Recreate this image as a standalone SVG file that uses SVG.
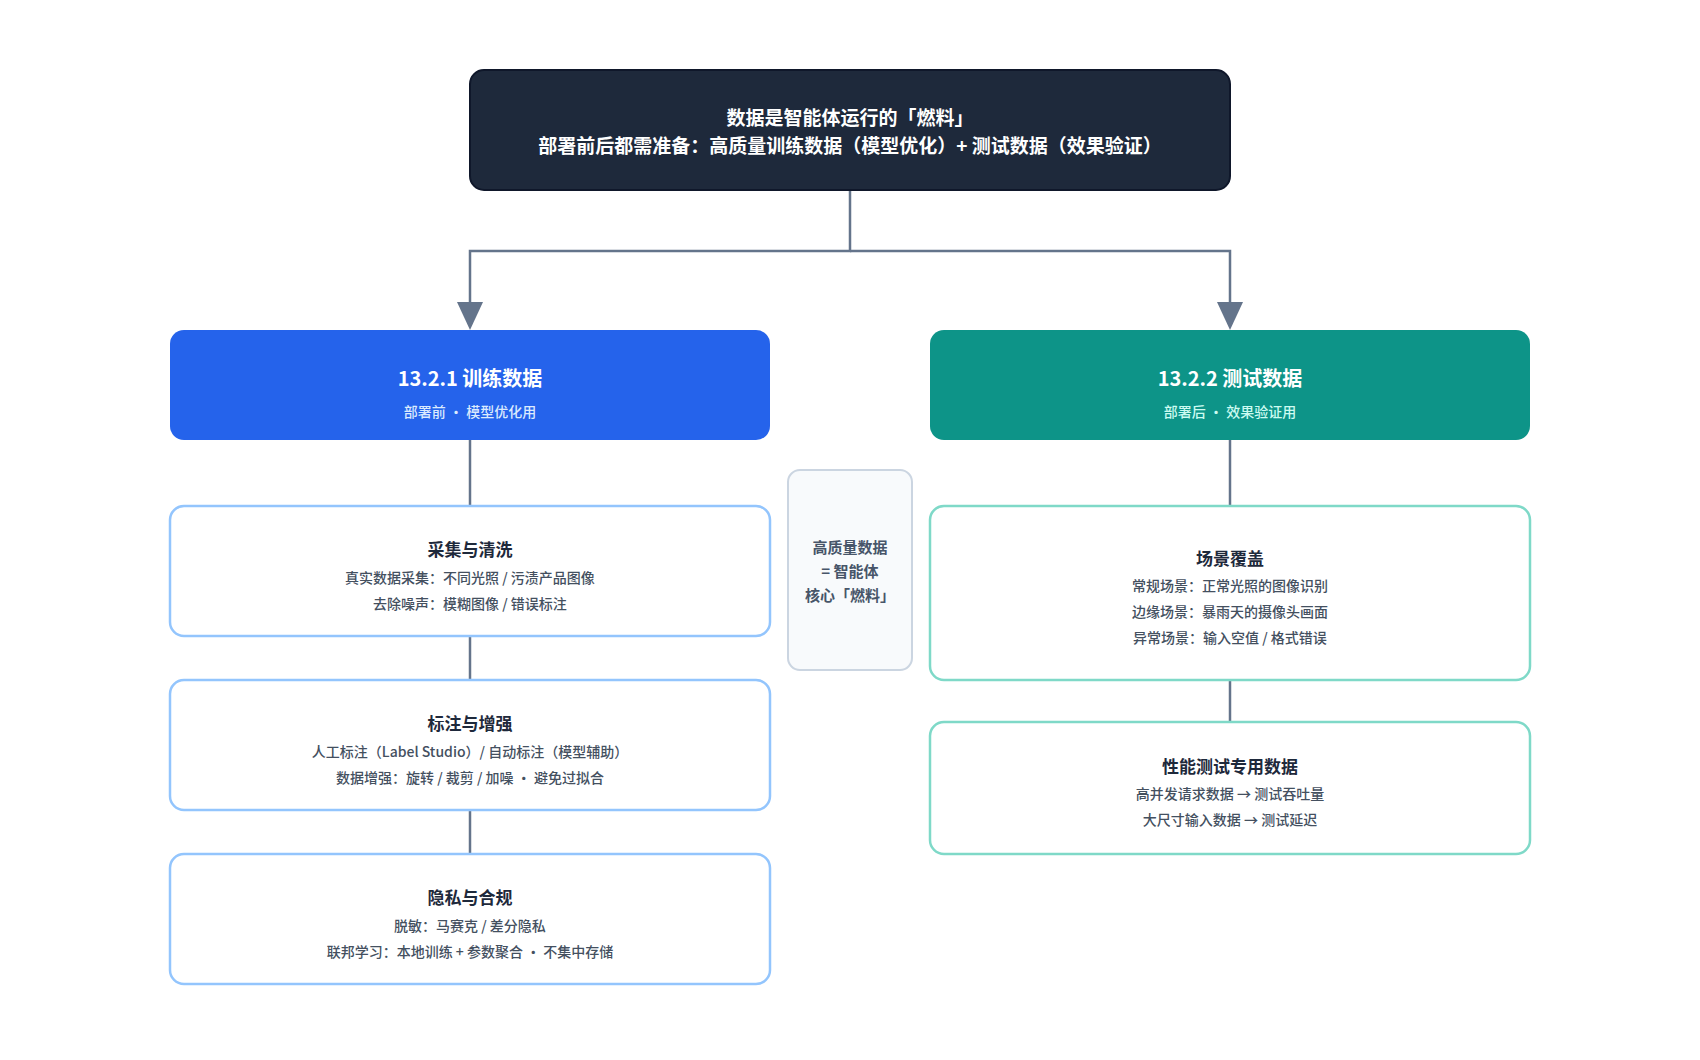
<svg xmlns="http://www.w3.org/2000/svg" width="1700" height="1060" viewBox="0 0 1700 1060">
<defs>
<style>
text{font-family:"Noto Sans CJK SC","Noto Sans",sans-serif;text-anchor:middle;dominant-baseline:central}
.top{fill:#ffffff;font-size:19px;font-weight:700}
.h1{fill:#ffffff;font-size:20px;font-weight:700}
.sub{font-size:14px;font-weight:500}
.t{fill:#1e293b;font-size:17px;font-weight:700}
.b{fill:#44505f;font-size:14px;font-weight:500}
.c{fill:#475569;font-size:15px;font-weight:700}
.lb{fill:#ffffff;stroke:#93c5fd;stroke-width:2.5}
.lt{fill:#ffffff;stroke:#7fd9c8;stroke-width:2.5}
.conn{fill:none;stroke:#64748b;stroke-width:2.5}
</style>
</defs>
<rect width="1700" height="1060" fill="#ffffff"/>
<g id="connectors">
<path class="conn" d="M850 190 V251 H470 V302"/>
<path class="conn" d="M850 251 H1230 V302"/>
<path d="M457 302 L483 302 L470 330 Z" fill="#64748b"/>
<path d="M1217 302 L1243 302 L1230 330 Z" fill="#64748b"/>
<path class="conn" d="M470 440 V506"/>
<path class="conn" d="M470 636 V680"/>
<path class="conn" d="M470 810 V854"/>
<path class="conn" d="M1230 440 V506"/>
<path class="conn" d="M1230 680 V722"/>
</g>
<g id="top">
<rect x="470" y="70" width="760" height="120" rx="14" fill="#1e293b" stroke="#0f172a" stroke-width="2"/>
<text class="top" x="850" y="116">数据是智能体运行的「燃料」</text>
<text class="top" x="850" y="144">部署前后都需准备：高质量训练数据（模型优化）+ 测试数据（效果验证）</text>
</g>
<g id="train">
<rect x="170" y="330" width="600" height="110" rx="14" fill="#2563eb"/>
<text class="h1" x="470" y="377">13.2.1 训练数据</text>
<text class="sub" x="470" y="411" fill="#dbeafe">部署前 · 模型优化用</text>
</g>
<g id="test">
<rect x="930" y="330" width="600" height="110" rx="14" fill="#0d9488"/>
<text class="h1" x="1230" y="377">13.2.2 测试数据</text>
<text class="sub" x="1230" y="411" fill="#ccfbf1">部署后 · 效果验证用</text>
</g>
<g id="collect">
<rect class="lb" x="170" y="506" width="600" height="130" rx="14"/>
<text class="t" x="470" y="548">采集与清洗</text>
<text class="b" x="470" y="577">真实数据采集：不同光照 / 污渍产品图像</text>
<text class="b" x="470" y="603">去除噪声：模糊图像 / 错误标注</text>
</g>
<g id="label">
<rect class="lb" x="170" y="680" width="600" height="130" rx="14"/>
<text class="t" x="470" y="722">标注与增强</text>
<text class="b" x="470" y="751">人工标注（Label Studio）/ 自动标注（模型辅助）</text>
<text class="b" x="470" y="777">数据增强：旋转 / 裁剪 / 加噪 · 避免过拟合</text>
</g>
<g id="privacy">
<rect class="lb" x="170" y="854" width="600" height="130" rx="14"/>
<text class="t" x="470" y="896">隐私与合规</text>
<text class="b" x="470" y="925">脱敏：马赛克 / 差分隐私</text>
<text class="b" x="470" y="951">联邦学习：本地训练 + 参数聚合 · 不集中存储</text>
</g>
<g id="center">
<rect x="788" y="470" width="124" height="200" rx="12" fill="#f8fafc" stroke="#cbd5e1" stroke-width="2"/>
<text class="c" x="850" y="546">高质量数据</text>
<text class="c" x="850" y="570">= 智能体</text>
<text class="c" x="850" y="594">核心「燃料」</text>
</g>
<g id="scene">
<rect class="lt" x="930" y="506" width="600" height="174" rx="14"/>
<text class="t" x="1230" y="557">场景覆盖</text>
<text class="b" x="1230" y="585">常规场景：正常光照的图像识别</text>
<text class="b" x="1230" y="611">边缘场景：暴雨天的摄像头画面</text>
<text class="b" x="1230" y="637">异常场景：输入空值 / 格式错误</text>
</g>
<g id="perf">
<rect class="lt" x="930" y="722" width="600" height="132" rx="14"/>
<text class="t" x="1230" y="765">性能测试专用数据</text>
<text class="b" x="1230" y="793">高并发请求数据 → 测试吞吐量</text>
<text class="b" x="1230" y="819">大尺寸输入数据 → 测试延迟</text>
</g>
</svg>
